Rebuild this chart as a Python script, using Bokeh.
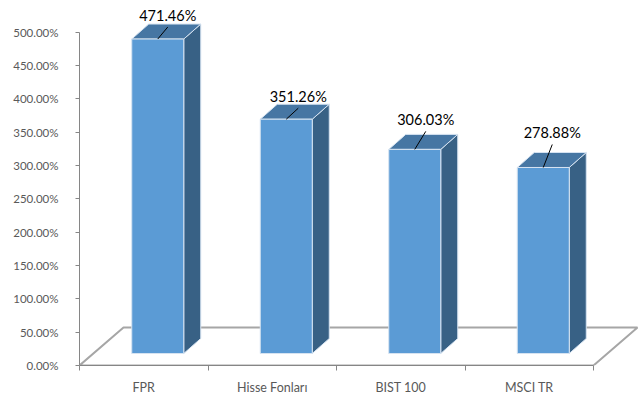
from bokeh.plotting import figure
from bokeh.models import Range1d, FixedTicker, PrintfTickFormatter, ColumnDataSource
from bokeh.core.properties import value
from bokeh.embed import file_html
from bokeh.resources import INLINE

# ---- data ----
categories = ["FPR", "Hisse Fonları", "BIST 100", "MSCI TR"]
values = [471.46, 351.26, 306.03, 278.88]
y_ticks = [0, 50, 100, 150, 200, 250, 300, 350, 400, 450, 500]

# ---- layout / style constants (pixels) ----
PX_X = 128.5          # pixels per category
PX_Y = 0.667          # pixels per percent point
FLOOR_DX, FLOOR_DY = 44, 38
FRONT_DX, FRONT_DY = 14, 12
SIDE_DX, SIDE_DY = 17, 15
BAR_W = 52
LEADER_PX = [(10, 12), (12, 11), (11, 18), (9, 23)]
LABEL_GAP = 12

W, H = 644, 403
BL, BB = 79, 38
frame_w = W - BL
frame_h = H - BB

n = len(categories)
p = figure(width=W, height=H, output_backend="svg", toolbar_location=None,
           x_range=Range1d(0, frame_w / PX_X), y_range=Range1d(0, frame_h / PX_Y),
           min_border_left=BL, min_border_right=0, min_border_top=0, min_border_bottom=BB)
p.outline_line_color = None
p.xgrid.visible = False
p.ygrid.visible = False
p.background_fill_color = "white"
p.border_fill_color = "white"

# unit conversions
def ux(px):
    return px / PX_X

def uy(px):
    return px / PX_Y

# floor
fdx, fdy = ux(FLOOR_DX), uy(FLOOR_DY)
p.patch([0, fdx, n + fdx, n], [0, fdy, fdy, 0], fill_color="white",
        line_color="#a6a6a6", line_width=2)

# bars
w = ux(BAR_W)
dx0, dy0 = ux(FRONT_DX), uy(FRONT_DY)
sdx, sdy = ux(SIDE_DX), uy(SIDE_DY)
left = [i + 0.5 - w / 2 + dx0 for i in range(n)]
right = [i + 0.5 + w / 2 + dx0 for i in range(n)]
tops = [v + dy0 for v in values]

side_xs = [[r, r + sdx, r + sdx, r] for r in right]
side_ys = [[dy0, dy0 + sdy, t + sdy, t] for t in tops]
top_xs = [[l, l + sdx, r + sdx, r] for l, r in zip(left, right)]
top_ys = [[t, t + sdy, t + sdy, t] for t in tops]

edge = "#d6e3f1"
p.patches(side_xs, side_ys, fill_color="#386185", line_color=edge, line_width=1)
p.patches(top_xs, top_ys, fill_color="#4676a3", line_color=edge, line_width=1)
p.quad(left=left, right=right, bottom=[dy0] * n, top=tops,
       fill_color="#5b9bd5", line_color=edge, line_width=1)

# leader lines and labels
cx = [i + 0.5 + dx0 for i in range(n)]
x1 = [c + ux(lx) for c, (lx, ly) in zip(cx, LEADER_PX)]
y1 = [t + uy(ly) for t, (lx, ly) in zip(tops, LEADER_PX)]
p.segment(x0=cx, y0=tops, x1=x1, y1=y1, line_color="black", line_width=1)

lab_src = ColumnDataSource(dict(x=x1, y=[y + uy(LABEL_GAP) for y in y1],
                                t=[f"{v:.2f}%" for v in values]))
p.text(x="x", y="y", text="t", source=lab_src, text_align="center",
       text_baseline="middle", text_font=value("Lato"), text_font_size="14.5px",
       text_color="black")

# axes
ya = p.yaxis[0]
ya.ticker = FixedTicker(ticks=y_ticks, minor_ticks=[])
ya.formatter = PrintfTickFormatter(format="%.2f%%")
ya.bounds = (0, 500)
ya.axis_line_color = "#868686"
ya.major_tick_line_color = "#868686"
ya.major_tick_out = 4
ya.major_tick_in = 0
ya.major_label_standoff = 17
ya.major_label_text_font = "Lato"
ya.major_label_text_font_size = "11.5px"
ya.major_label_text_color = "#595959"

xa = p.xaxis[0]
centers = [i + 0.5 for i in range(n)]
xa.ticker = FixedTicker(ticks=centers, minor_ticks=list(range(n + 1)))
xa.major_label_overrides = {c: lab for c, lab in zip(centers, categories)}
xa.bounds = (0, n)
xa.axis_line_color = "#868686"
xa.major_tick_out = 0
xa.major_tick_in = 0
xa.minor_tick_out = 5
xa.minor_tick_in = 0
xa.minor_tick_line_color = "#868686"
xa.major_label_standoff = 9
xa.major_label_text_font = "Lato"
xa.major_label_text_font_size = "12.5px"
xa.major_label_text_color = "#595959"

open("out.html", "w").write(file_html(p, INLINE))
